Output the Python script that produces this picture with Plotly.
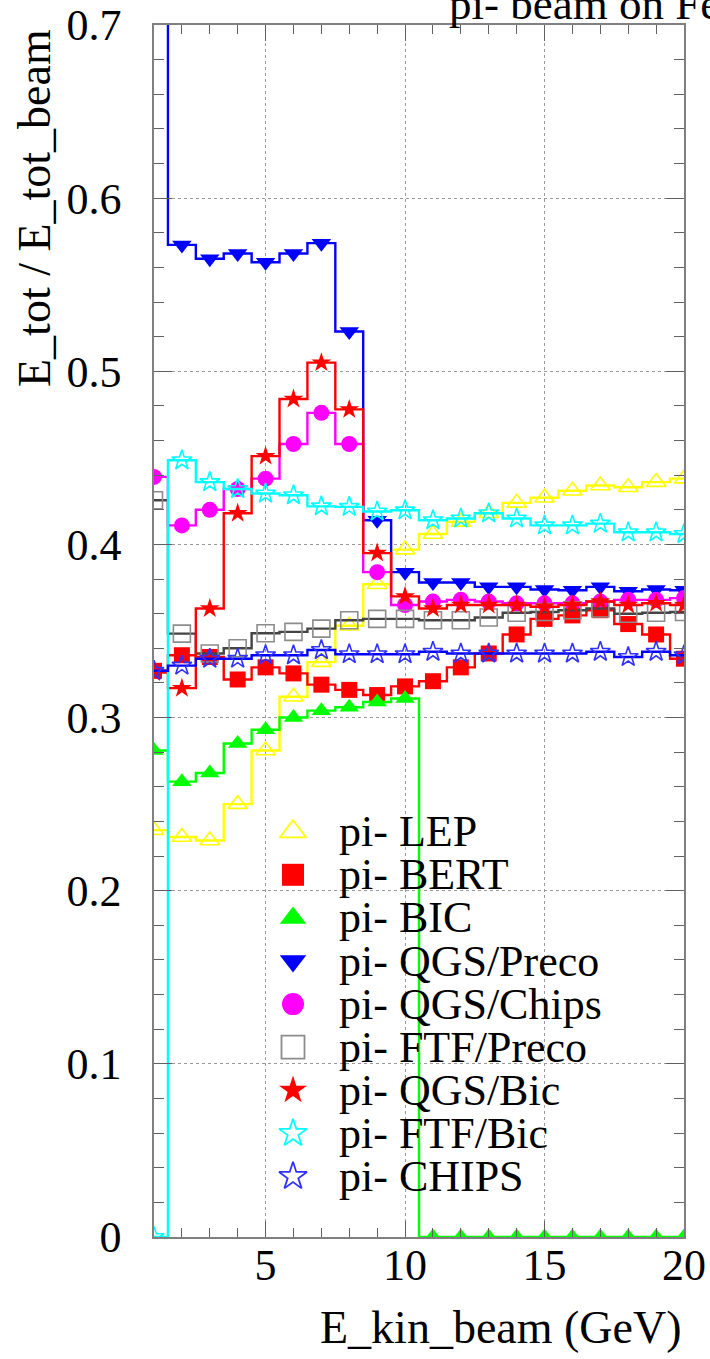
import plotly.graph_objects as go

# Beam kinetic energy bins (GeV), one value per 1 GeV bin centre
e_kin = list(range(1, 21))

lep = [0.235, 0.231, 0.229, 0.250, 0.281, 0.312, 0.332, 0.353, 0.377, 0.397,
       0.406, 0.413, 0.418, 0.424, 0.427, 0.431, 0.434, 0.433, 0.436, 0.438]
bert = [0.327, 0.336, 0.335, 0.322, 0.329, 0.3255, 0.319, 0.316, 0.313, 0.318,
        0.321, 0.329, 0.337, 0.348, 0.357, 0.359, 0.362, 0.354, 0.348, 0.334]
bic = [0.281, 0.263, 0.268, 0.285, 0.293, 0.300, 0.304, 0.306, 0.309, 0.311,
       0.0, 0.0, 0.0, 0.0, 0.0, 0.0, 0.0, 0.0, 0.0, 0.0]
qgs_preco = [0.82, 0.573, 0.565, 0.568, 0.563, 0.568, 0.574, 0.523, 0.414, 0.384,
             0.378, 0.378, 0.3755, 0.3755, 0.374, 0.3735, 0.3755, 0.373, 0.374, 0.3735]
qgs_chips = [0.439, 0.411, 0.420, 0.432, 0.438, 0.458, 0.476, 0.458, 0.384, 0.365,
             0.367, 0.368, 0.367, 0.366, 0.366, 0.366, 0.367, 0.368, 0.368, 0.369]
ftf_preco = [0.4255, 0.3485, 0.337, 0.340, 0.3487, 0.3495, 0.3514, 0.3562, 0.357, 0.357,
             0.3562, 0.3562, 0.3578, 0.3605, 0.361, 0.362, 0.363, 0.360, 0.3605, 0.361]
qgs_bic = [0.326, 0.317, 0.363, 0.418, 0.451, 0.484, 0.505, 0.478, 0.395, 0.370,
           0.363, 0.365, 0.365, 0.365, 0.364, 0.365, 0.367, 0.365, 0.366, 0.365]
ftf_bic = [0.0, 0.4486, 0.436, 0.432, 0.4294, 0.4284, 0.422, 0.4217, 0.419, 0.4197,
           0.414, 0.415, 0.418, 0.415, 0.411, 0.411, 0.412, 0.407, 0.407, 0.406]
chips = [0.327, 0.330, 0.334, 0.334, 0.336, 0.336, 0.339, 0.3366, 0.3366, 0.3366,
         0.338, 0.337, 0.337, 0.337, 0.337, 0.337, 0.338, 0.335, 0.338, 0.336]

labels = ["pi- LEP", "pi- BERT", "pi- BIC", "pi- QGS/Preco", "pi- QGS/Chips",
          "pi- FTF/Preco", "pi- QGS/Bic", "pi- FTF/Bic", "pi- CHIPS"]
series = [lep, bert, bic, qgs_preco, qgs_chips, ftf_preco, qgs_bic, ftf_bic, chips]

# (line colour, marker colour, symbol, size)
styles = [
    ("#ffff00", "#ffff00", "triangle-up-open", 17),
    ("#ff0000", "#ff0000", "square", 16),
    ("#00ff00", "#00ff00", "triangle-up", 17),
    ("#0000ff", "#0000ff", "triangle-down", 17),
    ("#ff00ff", "#ff00ff", "circle", 16),
    ("#444444", "#8c8c8c", "square-open", 17),
    ("#ff0000", "#ff0000", "star", 15),
    ("#00ffff", "#00ffff", "star-open", 15),
    ("#0000ff", "#3030ff", "star-open", 15),
]

SERIF = '"Liberation Serif", "Times New Roman", Times, "DejaVu Serif", serif'
W, H = 710, 1359
ML, MR, MT, MB = 154, 26, 25, 122
PW, PH = W - ML - MR, H - MT - MB


def px_x(px):
    return (px - ML) / PW


def px_y(py):
    return (H - MB - py) / PH


fig = go.Figure()

for name, vals, (lc, mc, sym, sz) in zip(labels, series, styles):
    fig.add_trace(go.Scatter(
        x=e_kin, y=vals, name=name, mode="lines+markers",
        line=dict(color=lc, width=2.4, shape="hvh"),
        marker=dict(symbol=sym, size=sz, color=mc,
                    line=dict(color=mc, width=1.6 if "open" in sym else 0)),
        showlegend=False,
    ))

# Legend drawn inside the frame on an overlay axis
leg_x_marker = px_x(293)
leg_x_text = px_x(337)
leg_y0, leg_dy = 831.7, 43.1
for i, (name, (lc, mc, sym, sz)) in enumerate(zip(labels, styles)):
    yy = px_y(leg_y0 + i * leg_dy)
    fig.add_trace(go.Scatter(
        x=[leg_x_marker], y=[yy], xaxis="x2", yaxis="y2", mode="markers",
        marker=dict(symbol=sym, size=sz + 6, color=mc,
                    line=dict(color=mc, width=1.8 if "open" in sym else 0)),
        showlegend=False, hoverinfo="skip", cliponaxis=False,
    ))
    fig.add_annotation(
        x=leg_x_text, y=yy, xref="paper", yref="paper", text=name,
        showarrow=False, xanchor="left", yanchor="middle",
        font=dict(family=SERIF, size=44, color="#000000"),
    )

axis_common = dict(
    showline=True, linecolor="#808080", linewidth=1.5, mirror="allticks",
    ticks="inside", tickcolor="#606060", tickwidth=1,
    showgrid=True, gridcolor="#9a9a9a", griddash="dot", gridwidth=1,
    zeroline=False, automargin=False,
    tickfont=dict(family=SERIF, size=44, color="#000000"),
)

fig.update_layout(
    width=W, height=H,
    margin=dict(l=ML, r=MR, t=MT, b=MB, autoexpand=False),
    paper_bgcolor="white", plot_bgcolor="white",
    font=dict(family=SERIF),
    xaxis=dict(range=[1, 20], tick0=0, dtick=5, ticklen=16,
               ticklabelstandoff=-12,
               minor=dict(dtick=1, tick0=0, ticks="inside", ticklen=9,
                          tickcolor="#606060", showgrid=False),
               **axis_common),
    yaxis=dict(range=[0, 0.7], tick0=0, dtick=0.1, ticklen=18,
               ticklabelstandoff=22,
               minor=dict(dtick=0.02, tick0=0, ticks="inside", ticklen=10,
                          tickcolor="#606060", showgrid=False),
               **axis_common),
    xaxis2=dict(range=[0, 1], overlaying="x", visible=False, fixedrange=True),
    yaxis2=dict(range=[0, 1], overlaying="y", visible=False, fixedrange=True),
)

# Axis titles and header text
fig.add_annotation(
    x=1.0, y=px_y(1327), xref="paper", yref="paper", text="E_kin_beam (GeV)",
    showarrow=False, xanchor="right", yanchor="middle",
    font=dict(family=SERIF, size=46, color="#000000"),
)
fig.add_annotation(
    x=px_x(35), y=px_y(27), xref="paper", yref="paper", text="E_tot / E_tot_beam",
    showarrow=False, xanchor="center", yanchor="top", textangle=-90,
    font=dict(family=SERIF, size=46, color="#000000"),
)
fig.add_annotation(
    x=px_x(447), y=px_y(31), xref="paper", yref="paper", text="pi- beam on Fe",
    showarrow=False, xanchor="left", yanchor="bottom",
    font=dict(family=SERIF, size=45, color="#000000"),
)

fig.write_html("out.html")
